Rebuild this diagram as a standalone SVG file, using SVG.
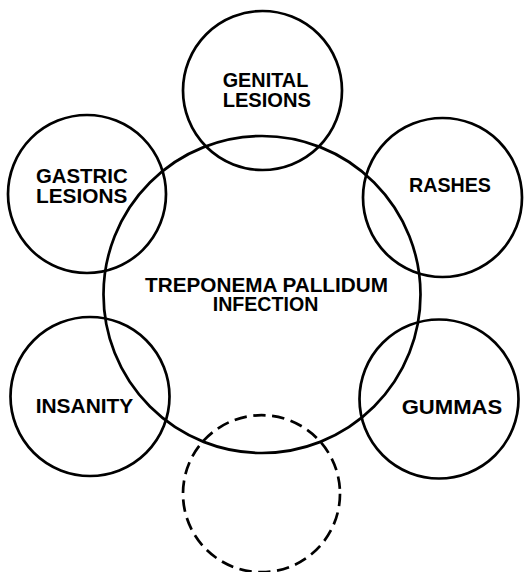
<svg xmlns="http://www.w3.org/2000/svg" width="525" height="572" viewBox="0 0 525 572">
<style>
.c{fill:none;stroke:#000;stroke-width:2.7}
.d{fill:none;stroke:#000;stroke-width:2.7;stroke-dasharray:12.5 6.5}
.t{font-family:"Liberation Sans",Arial,sans-serif;font-weight:bold;font-size:21px;fill:#000;text-anchor:middle}
.m{font-size:20px}
</style>
<rect width="525" height="572" fill="#fff"/>
<g id="center">
<circle class="c" cx="262" cy="294.5" r="158.5"/>
<text class="t m" x="266.5" y="291.7" textLength="243" lengthAdjust="spacingAndGlyphs">TREPONEMA PALLIDUM</text>
<text class="t m" x="265.5" y="310.7" textLength="105.6" lengthAdjust="spacingAndGlyphs">INFECTION</text>
</g>
<g id="genital">
<circle class="c" cx="262.5" cy="90.5" r="79.5"/>
<text class="t" x="265.5" y="86.7" textLength="85.6" lengthAdjust="spacingAndGlyphs">GENITAL</text>
<text class="t" x="266.8" y="107" textLength="88.3" lengthAdjust="spacingAndGlyphs">LESIONS</text>
</g>
<g id="gastric">
<circle class="c" cx="87" cy="194" r="79"/>
<text class="t" x="81.8" y="183.3" textLength="91.7" lengthAdjust="spacingAndGlyphs">GASTRIC</text>
<text class="t" x="81.7" y="203.3" textLength="91.3" lengthAdjust="spacingAndGlyphs">LESIONS</text>
</g>
<g id="rashes">
<circle class="c" cx="442.5" cy="197.5" r="79.5"/>
<text class="t" x="450" y="191.7" textLength="82" lengthAdjust="spacingAndGlyphs">RASHES</text>
</g>
<g id="insanity">
<circle class="c" cx="90" cy="396.5" r="79.5"/>
<text class="t" x="84.5" y="412.7" textLength="97.6" lengthAdjust="spacingAndGlyphs">INSANITY</text>
</g>
<g id="gummas">
<circle class="c" cx="439" cy="399" r="79.5"/>
<text class="t" x="452" y="414.3" textLength="100.6" lengthAdjust="spacingAndGlyphs">GUMMAS</text>
</g>
<g id="empty">
<circle class="d" cx="261.5" cy="493.7" r="78.5"/>
</g>
<g id="connectors"></g>
</svg>
